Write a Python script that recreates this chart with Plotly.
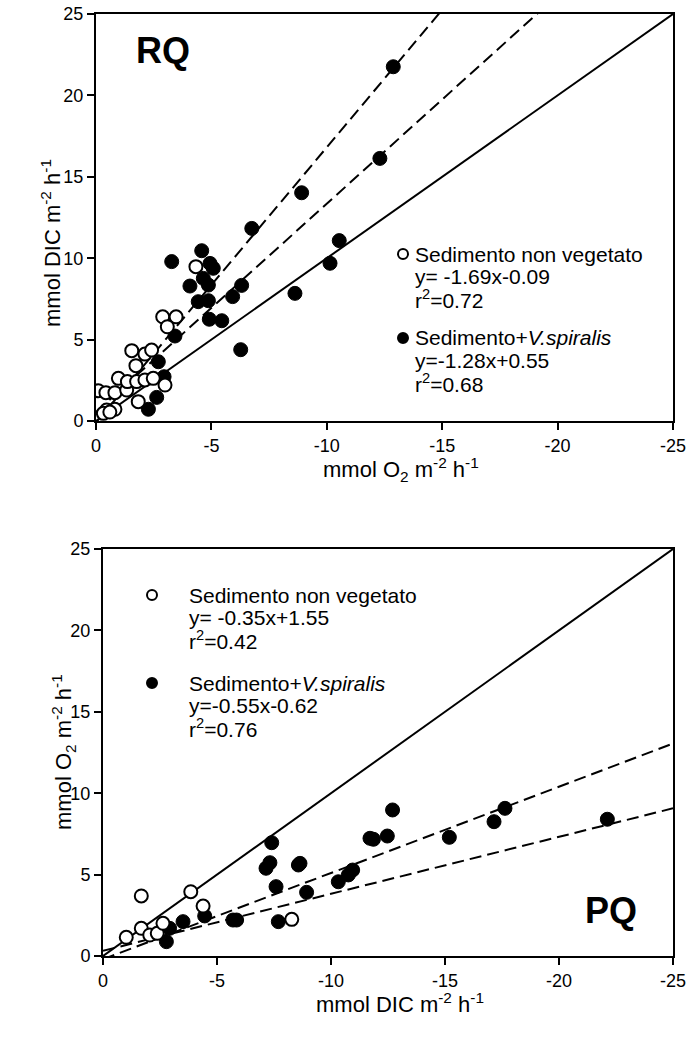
import numpy as np
import plotly.graph_objects as go

# ---------------- DATA ----------------
# Top panel (RQ): x = mmol O2 (negative), y = mmol DIC
rq_open_x = [-0.10, -0.43, -0.82, -1.33, -0.97, -1.36, -1.76, -2.12, -2.48, -2.99, -1.83,
             -0.46, -0.82, -0.32, -0.60, -1.73, -1.55, -2.12, -2.41, -2.89, -3.47, -3.09, -4.33]
rq_open_y = [1.86, 1.74, 1.74, 1.90, 2.62, 2.42, 2.42, 2.52, 2.62, 2.21, 1.19,
             0.68, 0.72, 0.47, 0.55, 3.40, 4.32, 4.11, 4.36, 6.40, 6.40, 5.79, 9.48]
rq_fill_x = [-2.27, -2.63, -2.95, -2.70, -3.42, -3.28, -4.58, -4.94, -5.08, -4.07, -4.65, -4.87,
             -4.43, -4.87, -4.91, -5.45, -6.31, -5.92, -6.27, -6.75, -8.91, -8.62, -10.14,
             -10.54, -12.30, -12.88]
rq_fill_y = [0.72, 1.45, 2.72, 3.64, 5.22, 9.79, 10.46, 9.68, 9.38, 8.29, 8.76, 8.35,
             7.33, 7.39, 6.25, 6.16, 8.33, 7.64, 4.38, 11.83, 14.02, 7.84, 9.69,
             11.08, 16.13, 21.76]

# Bottom panel (PQ): x = mmol DIC (negative), y = mmol O2
pq_open_x = [-1.02, -1.68, -3.85, -1.68, -2.05, -2.38, -2.63, -4.39, -8.28]
pq_open_y = [1.15, 3.69, 3.95, 1.70, 1.29, 1.39, 2.01, 3.07, 2.25]
pq_fill_x = [-4.46, -3.51, -2.92, -2.78, -5.70, -7.40, -7.32, -7.15, -8.57, -8.64, -7.59,
             -8.93, -5.86, -7.69, -10.32, -10.76, -10.95, -11.71, -12.70, -11.86, -12.47,
             -15.19, -17.15, -17.63, -22.12]
pq_fill_y = [2.46, 2.11, 1.70, 0.88, 2.21, 6.96, 5.73, 5.39, 5.59, 5.69, 4.26,
             3.91, 2.21, 2.11, 4.56, 4.98, 5.28, 7.23, 8.97, 7.17, 7.37,
             7.29, 8.25, 9.07, 8.40]

# Regression lines (slope, intercept) as drawn: y = slope * x + intercept
rq_lines_slope = [-1.69, -1.28]
rq_lines_inter = [-0.09, 0.55]
pq_lines_slope = [-0.53, -0.35]
pq_lines_inter = [-0.20, 0.32]

ticks = [0, -5, -10, -15, -20, -25]
tick_text = ["0", "-5", "-10", "-15", "-20", "-25"]
yticks = [0, 5, 10, 15, 20, 25]

rq_legend = [["Sedimento non vegetato", "y= -1.69x-0.09", "r<sup>2</sup>=0.72"],
             ["Sedimento+<i>V.spiralis</i>", "y=-1.28x+0.55", "r<sup>2</sup>=0.68"]]
pq_legend = [["Sedimento non vegetato", "y= -0.35x+1.55", "r<sup>2</sup>=0.42"],
             ["Sedimento+<i>V.spiralis</i>", "y=-0.55x-0.62", "r<sup>2</sup>=0.76"]]

title_o2 = "mmol O<sub>2</sub> m<sup>-2</sup> h<sup>-1</sup>"
title_dic = "mmol DIC m<sup>-2</sup> h<sup>-1</sup>"

# ---------------- FIGURE ----------------
W, H = 694, 1039
FONT = "Liberation Sans, Arial, sans-serif"
fig = go.Figure()

xs = np.array([0, -25.0])

def add_panel(xa, ya, slopes, inters, fx, fy, ox, oy):
    fig.add_trace(go.Scatter(x=[0, -25], y=[0, 25], mode="lines",
                             line=dict(color="black", width=2), xaxis=xa, yaxis=ya,
                             showlegend=False, hoverinfo="skip"))
    for s, b in zip(slopes, inters):
        fig.add_trace(go.Scatter(x=xs, y=s * xs + b, mode="lines",
                                 line=dict(color="black", width=2, dash="12px,6px"),
                                 xaxis=xa, yaxis=ya, showlegend=False, hoverinfo="skip"))
    fig.add_trace(go.Scatter(x=fx, y=fy, mode="markers",
                             marker=dict(size=14, color="black", line=dict(color="black", width=1)),
                             xaxis=xa, yaxis=ya, showlegend=False))
    fig.add_trace(go.Scatter(x=ox, y=oy, mode="markers",
                             marker=dict(size=13, color="white", line=dict(color="black", width=2)),
                             xaxis=xa, yaxis=ya, showlegend=False))

add_panel("x", "y", rq_lines_slope, rq_lines_inter, rq_fill_x, rq_fill_y, rq_open_x, rq_open_y)
add_panel("x2", "y2", pq_lines_slope, pq_lines_inter, pq_fill_x, pq_fill_y, pq_open_x, pq_open_y)

def px_x(p):
    return p / W

def px_y(p):
    return 1 - p / H

axis_common = dict(showgrid=False, zeroline=False, showline=True, linecolor="black",
                   linewidth=2, mirror=True, ticks="outside", ticklen=7, tickwidth=2,
                   tickcolor="black", automargin=False,
                   tickfont=dict(family=FONT, size=18, color="black"))

fig.update_layout(
    width=W, height=H, margin=dict(l=0, r=0, t=0, b=0, pad=0),
    paper_bgcolor="white", plot_bgcolor="white", showlegend=False,
    xaxis=dict(axis_common, domain=[px_x(96), px_x(673)], range=[0, -25], anchor="y",
               tickvals=ticks, ticktext=tick_text),
    yaxis=dict(axis_common, domain=[px_y(421), px_y(14)], range=[0, 25], anchor="x",
               tickvals=yticks),
    xaxis2=dict(axis_common, domain=[px_x(103), px_x(673)], range=[0, -25], anchor="y2",
                tickvals=ticks, ticktext=tick_text),
    yaxis2=dict(axis_common, domain=[px_y(956), px_y(549)], range=[0, 25], anchor="x2",
                tickvals=yticks),
)

annotations = []
shapes = []

def txt(text, x, y, size, xanchor="center", angle=0, pad=1):
    annotations.append(dict(text=text, xref="paper", yref="paper", x=px_x(x), y=px_y(y),
                            xanchor=xanchor, yanchor="middle", showarrow=False,
                            textangle=angle, borderpad=pad,
                            font=dict(family=FONT, size=size, color="black")))

def add_legend(items, mx, tx, y0, y1, step):
    for k, (lines, ytop) in enumerate(zip(items, [y0, y1])):
        filled = (k == 1)
        shapes.append(dict(type="circle", xref="paper", yref="paper",
                           xsizemode="pixel", ysizemode="pixel",
                           xanchor=px_x(mx), yanchor=px_y(ytop),
                           x0=-5, x1=5, y0=-5, y1=5,
                           fillcolor="black" if filled else "white",
                           line=dict(color="black", width=2)))
        for j, t in enumerate(lines):
            txt(t, tx, ytop + j * step, 21, xanchor="left", pad=0)

add_legend(rq_legend, 403, 414, 254, 338, 22.5)
add_legend(pq_legend, 152, 188, 595, 683, 22.5)

# axis titles
txt(title_o2, 401, 469, 22)
txt(title_dic, 51, 243, 22, angle=-90)
txt(title_dic, 400, 1003, 22)
txt(title_o2, 63, 752, 22, angle=-90)

txt("<b>RQ</b>", 163, 50, 36)
txt("<b>PQ</b>", 611, 910, 36)

fig.update_layout(annotations=annotations, shapes=shapes)
fig.write_html("out.html",
               post_script="document.body.style.margin='0';document.body.style.padding='0';"
                           "document.documentElement.style.overflow='hidden';")
